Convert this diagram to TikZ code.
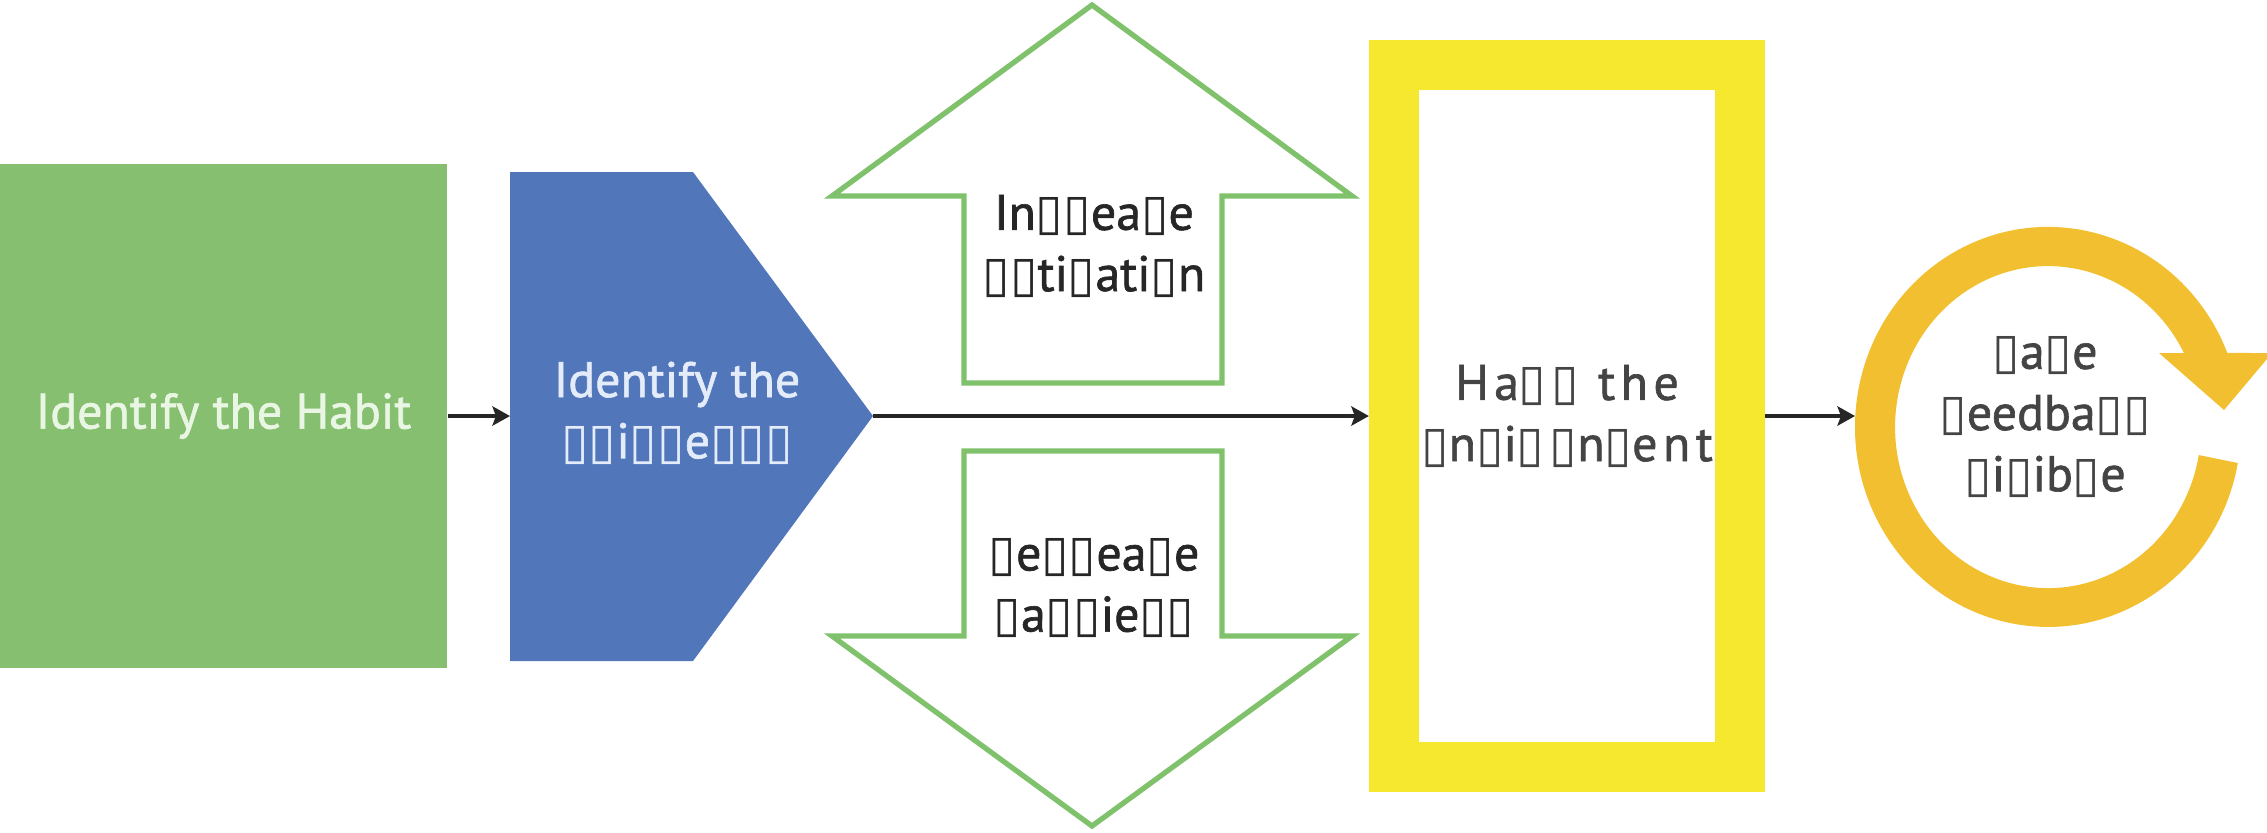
\documentclass[tikz,border=0pt]{standalone}
\usepackage{fontspec}
\setmainfont{PT Sans}
\newfontfamily\medfont{PT Sans}[FakeBold=1.3]
\newfontfamily\dv{DejaVu Sans}
\newfontfamily\widefont{PT Sans}[LetterSpace=11,FakeBold=1.3]
\newfontfamily\widedv{DejaVu Sans}[LetterSpace=11]
\usetikzlibrary{arrows.meta}
\definecolor{gfill}{HTML}{86BF6F}
\definecolor{bfill}{HTML}{5176BA}
\definecolor{gline}{HTML}{80C26C}
\definecolor{yframe}{HTML}{F6E82E}
\definecolor{ringc}{HTML}{F1BF30}
\definecolor{txtdark}{HTML}{262626}
\definecolor{txtgrey}{HTML}{444444}
\definecolor{gtxt}{HTML}{EAF6E4}
\definecolor{btxt}{HTML}{E4ECFA}
\newcommand\tf{{\dv ▯}}
\newcommand\tfw{{\widedv ▯}}
\tikzset{
  lbl/.style={font=\fontsize{14.2}{17.4}\selectfont\medfont, align=center, text=txtdark, inner sep=0pt},
  conn/.style={draw=black!85, line width=0.9pt, -{Stealth[length=5pt,width=5.5pt,inset=1pt]}},
  garrow/.style={draw=gline, line width=1.5pt, line join=miter},
  greenbox/.style={fill=gfill, minimum width=4.47cm, minimum height=5.04cm, inner sep=0pt},
  framebox/.style={draw=yframe, line width=0.5cm, minimum width=3.46cm, minimum height=7.01cm, inner sep=0pt}
}
\begin{document}
\begin{tikzpicture}[x=0.01cm,y=-0.01cm]
\useasboundingbox (0,0) rectangle (2267,832);
% green box
\node[greenbox, lbl, text=gtxt] (habit) at (223.5,416) {Identify the Habit};
% blue pentagon
\fill[bfill] (510,172) -- (693,172) -- (873,416) -- (693,661) -- (510,661) -- cycle;
\coordinate (bluewest) at (510,416);
\coordinate (bluetip) at (873,416);
\node[lbl, text=btxt] (motiv) at (677,413) {Identify the\\\tf\tf i\tf\tf e\tf\tf\tf};
% up arrow
\draw[garrow] (964,383) -- (964,196) -- (832,196) -- (1092,5) -- (1352,196) -- (1222,196) -- (1222,383) -- cycle;
\node[lbl] (incr) at (1094,246) {In\tf\tf ea\tf e\\\tf\tf ti\tf ati\tf n};
% down arrow
\draw[garrow] (964,451) -- (964,636) -- (832,636) -- (1092,826) -- (1352,636) -- (1222,636) -- (1222,451) -- cycle;
\node[lbl] (decr) at (1094,588) {\tf e\tf\tf ea\tf e\\\tf a\tf\tf ie\tf\tf};
% yellow frame
\node[framebox, lbl, text=txtgrey, font=\fontsize{14.2}{17.4}\selectfont\widefont] (env) at (1567,416) {Ha\tfw\tfw{} the\\\tfw n\tfw i\tfw\tfw n\tfw ent};
% circular arrow (scope with y pointing up, centred on the ring)
\begin{scope}[shift={(2048,427)}, x=0.01cm, y=0.01cm]
\fill[ringc] (189.8,-36) arc[start angle=-10.4, end angle=-338.3, x radius=193, y radius=200]
  -- (224,74) -- (176,17) -- (111,74) -- (135.9,74)
  arc[start angle=-332.6, end angle=-10, x radius=153, y radius=161] -- cycle;
\end{scope}
\coordinate (ringwest) at (1855,416);
\node[lbl, text=txtgrey] (feedback) at (2045,417) {\tf a\tf e\\\tf eedba\tf\tf\\\tf i\tf ib\tf e};
% connectors
\draw[conn] (habit.east) -- (bluewest);
\draw[conn] (bluetip) -- (env.west);
\draw[conn] (env.east) -- (ringwest);
\end{tikzpicture}
\end{document}
